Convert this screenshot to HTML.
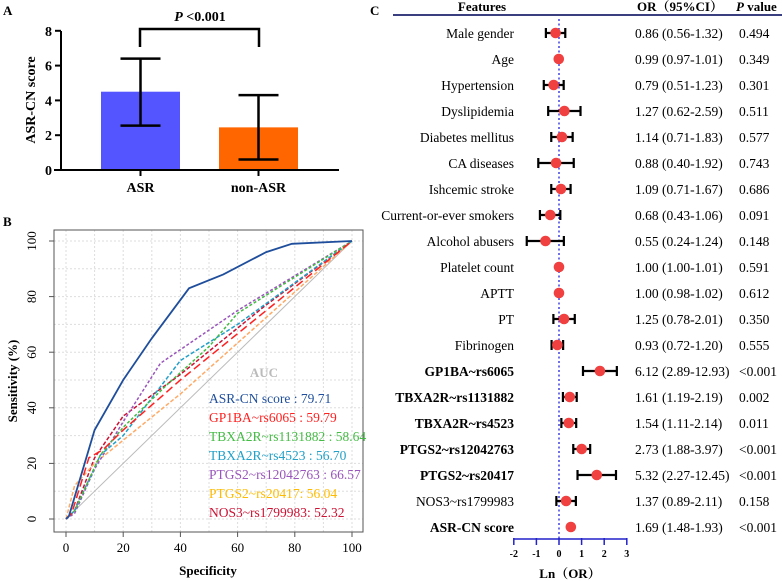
<!DOCTYPE html>
<html><head><meta charset="utf-8"><style>
body{margin:0;background:#fff}
svg{display:block;font-family:"Liberation Serif",serif}
</style></head><body>
<svg width="782" height="581" viewBox="0 0 782 581">
<g id="pa"></g>
<g id="pb"></g>
<g id="pc"></g>
</svg>
<script>
// Panel A data
const barGroups = ["ASR", "non-ASR"];
const barMeans = [4.5, 2.45];
const barUpper = [6.4, 4.3];
const barLower = [2.55, 0.6];
const barTicks = [0, 2, 4, 6, 8];

// Panel B data
const rocNames = ["ASR-CN score : 79.71","GP1BA~rs6065 : 59.79","TBXA2R~rs1131882 : 58.64","TBXA2R~rs4523 : 56.70","PTGS2~rs12042763 : 66.57","PTGS2~rs20417: 56.04","NOS3~rs1799983: 52.32"];
const rocX = [
 [0,1,10,20,30,43,55,70,79,100],
 [0,2,8,13,20,40,70,100],
 [0,3,12,20,35,50,60,100],
 [0,3,12,20,40,60,100],
 [0,3,10,20,33,60,100],
 [0,3,10,40,100],
 [0,3,10,20,40,70,100]
];
const rocY = [
 [0,1,32,50,65,83,88,96,99,100],
 [0,2,22,25,32,50,75,100],
 [0,3,23,33,48,62,74,100],
 [0,3,23,30,57,70,100],
 [0,2,18,35,56,75,100],
 [0,12,20,45,100],
 [0,3,22,37,52,77,100]
];
const rocTicks = [0,20,40,60,80,100];

// Panel C data
const features = ["Male gender","Age","Hypertension","Dyslipidemia","Diabetes mellitus","CA diseases","Ishcemic stroke","Current-or-ever smokers","Alcohol abusers","Platelet count","APTT","PT","Fibrinogen","GP1BA~rs6065","TBXA2R~rs1131882","TBXA2R~rs4523","PTGS2~rs12042763","PTGS2~rs20417","NOS3~rs1799983","ASR-CN score"];
const orVals = [0.86,0.99,0.79,1.27,1.14,0.88,1.09,0.68,0.55,1.00,1.00,1.25,0.93,6.12,1.61,1.54,2.73,5.32,1.37,1.69];
const orLow = [0.56,0.97,0.51,0.62,0.71,0.40,0.71,0.43,0.24,1.00,0.98,0.78,0.72,2.89,1.19,1.11,1.88,2.27,0.89,1.48];
const orHigh = [1.32,1.01,1.23,2.59,1.83,1.92,1.67,1.06,1.24,1.01,1.02,2.01,1.20,12.93,2.19,2.14,3.97,12.45,2.11,1.93];
const pVals = ["0.494","0.349","0.301","0.511","0.577","0.743","0.686","0.091","0.148","0.591","0.612","0.350","0.555","<0.001","0.002","0.011","<0.001","<0.001","0.158","<0.001"];
const boldRows = [13,14,15,16,17,19];
const lnTicks = [-2,-1,0,1,2,3];

const NS="http://www.w3.org/2000/svg";
function mk(parent,tag,attrs,text){const e=document.createElementNS(NS,tag);for(const k in attrs)e.setAttribute(k,attrs[k]);if(text!==undefined)e.textContent=text;parent.appendChild(e);return e;}

// ---------- Panel A ----------
const pa=document.getElementById('pa');
const ay=v=>170-v*17.4;
const barX=[101,219], barW=79;
let t=mk(pa,'text',{x:3,y:15,'font-size':13,'font-weight':'bold'},'A');


barGroups.forEach((g,i)=>{
  const r=mk(pa,'rect',{x:barX[i],y:ay(barMeans[i]),width:barW,height:170-ay(barMeans[i]),fill:i?'#ff6600':'#5555ff'});
  
  
  const cx=barX[i]+39.5;
  const eb=mk(pa,'path',{d:`M${cx},${ay(barUpper[i])}V${ay(barLower[i])}M${cx-20},${ay(barUpper[i])}H${cx+20}M${cx-20},${ay(barLower[i])}H${cx+20}`,stroke:'#000','stroke-width':2.5,fill:'none'});
  
  
  const l=mk(pa,'text',{x:cx,y:192,'font-size':14,'font-weight':'bold','text-anchor':'middle'},g);
  
  
  mk(pa,'line',{x1:cx,x2:cx,y1:170,y2:176,stroke:'#000','stroke-width':2});
});
const axA=mk(pa,'path',{d:'M61,31V170M54,170H339',stroke:'#000','stroke-width':2,fill:'none'});


barTicks.forEach(v=>{
  mk(pa,'line',{x1:55,x2:61,y1:ay(v),y2:ay(v),stroke:'#000','stroke-width':2});
  const l=mk(pa,'text',{x:52,y:ay(v)+5,'font-size':14,'font-weight':'bold','text-anchor':'end'},String(v));
  
  
});
t=mk(pa,'text',{x:0,y:0,'font-size':14,'font-weight':'bold','text-anchor':'middle',transform:'translate(35,100) rotate(-90)'},'ASR-CN score');


t=mk(pa,'path',{d:'M140,47V29H259V47',stroke:'#000','stroke-width':2.5,fill:'none'});


t=mk(pa,'text',{x:200,y:21,'font-size':14,'font-weight':'bold','text-anchor':'middle'});


t.innerHTML='<tspan font-style="italic">P</tspan> &lt;0.001';

// ---------- Panel B ----------
const pb=document.getElementById('pb');
const bx=v=>66+v*2.86, by=v=>519-v*2.78;
t=mk(pb,'text',{x:3,y:226,'font-size':13,'font-weight':'bold'},'B');


for(let v=0;v<=100;v+=10){
  mk(pb,'line',{x1:bx(v),x2:bx(v),y1:230,y2:532,stroke:'#ddd','stroke-dasharray':'2,2'});
  mk(pb,'line',{x1:54,x2:363,y1:by(v),y2:by(v),stroke:'#ddd','stroke-dasharray':'2,2'});
}
mk(pb,'line',{x1:bx(0),y1:by(0),x2:bx(100),y2:by(100),stroke:'#bbb','stroke-width':1});
const rocColors=['#1f4e9c','#ff2020','#44bb44','#22a0c8','#9955bb','#ffaa66','#cc1133'];
const rocDash=['none','8,4','3,2','4,2','3,2','4,2','4,2'];
for(let s=rocX.length-1;s>=0;s--){
  const d=rocX[s].map((x,i)=>(i?'L':'M')+bx(x).toFixed(1)+','+by(rocY[s][i]).toFixed(1)).join('');
  const p=mk(pb,'path',{d,stroke:rocColors[s],'stroke-width':s==0?1.8:1.5,fill:'none','stroke-dasharray':rocDash[s]});
  
  
}
t=mk(pb,'rect',{x:54,y:230,width:309,height:302,fill:'none',stroke:'#555','stroke-width':1});


rocTicks.forEach(v=>{
  mk(pb,'line',{x1:bx(v),x2:bx(v),y1:532,y2:537,stroke:'#555'});
  mk(pb,'line',{x1:49,x2:54,y1:by(v),y2:by(v),stroke:'#555'});
  let l=mk(pb,'text',{x:bx(v),y:552,'font-size':13,'text-anchor':'middle'},String(v));
  
  
  l=mk(pb,'text',{x:0,y:0,'font-size':13,'text-anchor':'middle',transform:`translate(36,${by(v)}) rotate(-90)`},String(v));
  
  
});
t=mk(pb,'text',{x:208,y:575,'font-size':13,'font-weight':'bold','text-anchor':'middle'},'Specificity');


t=mk(pb,'text',{x:0,y:0,'font-size':13,'font-weight':'bold','text-anchor':'middle',transform:'translate(17,381) rotate(-90)'},'Sensitivity (%)');


t=mk(pb,'text',{x:264,y:377,'font-size':13,'font-weight':'bold',fill:'#bbb','text-anchor':'middle'},'AUC');


const legColors=['#1f4e9c','#ff2020','#44bb44','#22a0c8','#9955bb','#ffbb00','#cc1133'];
rocNames.forEach((n,i)=>{
  const l=mk(pb,'text',{x:209,y:403+i*19,'font-size':13.5,fill:legColors[i]},n);
  
  
});

// ---------- Panel C ----------
const pc=document.getElementById('pc');
const cx=v=>559+v*22.6, ry=i=>33+i*26;
t=mk(pc,'text',{x:370,y:15,'font-size':13,'font-weight':'bold'},'C');


t=mk(pc,'text',{x:482,y:11,'font-size':13,'font-weight':'bold','text-anchor':'middle'},'Features');


t=mk(pc,'text',{x:637,y:11,'font-size':13,'font-weight':'bold','font-family':'"Liberation Serif","Noto Serif CJK SC",serif'},'OR（95%CI）');


t=mk(pc,'text',{x:736,y:11,'font-size':13,'font-weight':'bold'});


t.innerHTML='<tspan font-style="italic">P</tspan> value';
t=mk(pc,'line',{x1:393,x2:782,y1:15,y2:15,stroke:'#3a3f80','stroke-width':2});


t=mk(pc,'line',{x1:559,x2:559,y1:19,y2:539,stroke:'#2222dd','stroke-width':1.3,'stroke-dasharray':'2,2.5'});


features.forEach((f,i)=>{
  const y=ry(i), b=boldRows.includes(i);
  let l=mk(pc,'text',{x:514,y:y+5,'font-size':13.5,'font-weight':b?'bold':'normal','text-anchor':'end'},f);
  
  
  const lo=cx(Math.log(orLow[i])), hi=cx(Math.log(orHigh[i]));
  if(hi-lo>8){
    const e=mk(pc,'path',{d:`M${lo},${y}H${hi}M${lo},${y-5}V${y+5}M${hi},${y-5}V${y+5}`,stroke:'#000','stroke-width':2.2,fill:'none'});
    
    
  }
  const c=mk(pc,'circle',{cx:cx(Math.log(orVals[i])),cy:y,r:5.3,fill:'#f04040'});
  
  
  l=mk(pc,'text',{x:635,y:y+5,'font-size':13.5},`${orVals[i].toFixed(2)} (${orLow[i].toFixed(2)}-${orHigh[i].toFixed(2)})`);
  
  
  l=mk(pc,'text',{x:739,y:y+5,'font-size':13.5},pVals[i]);
  
  
});
t=mk(pc,'line',{x1:cx(-2),x2:cx(3),y1:539,y2:539,stroke:'#2222cc','stroke-width':1.5});


lnTicks.forEach(v=>{
  mk(pc,'line',{x1:cx(v),x2:cx(v),y1:538,y2:545,stroke:'#2222cc','stroke-width':1.5});
  const l=mk(pc,'text',{x:cx(v),y:557,'font-size':10,'font-weight':'bold','text-anchor':'middle'},String(v));
  
  
});
t=mk(pc,'text',{x:570,y:578,'font-size':13,'font-weight':'bold','text-anchor':'middle','font-family':'"Liberation Serif","Noto Serif CJK SC",serif'},'Ln（OR）');


</script>
</body></html>
